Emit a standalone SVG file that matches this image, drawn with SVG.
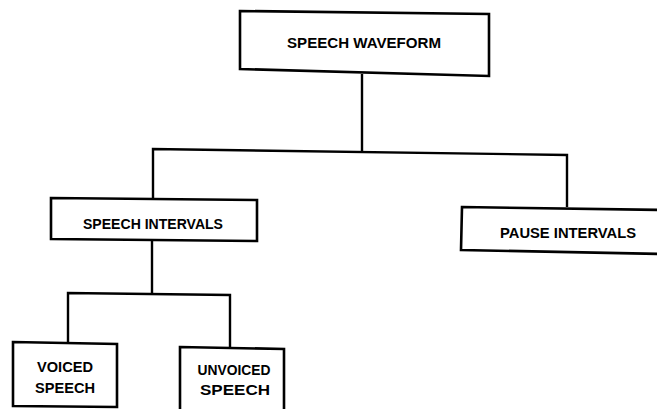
<svg xmlns="http://www.w3.org/2000/svg" width="657" height="409" viewBox="0 0 657 409">
<style>
.box{fill:#fff;stroke:#000;stroke-width:2.6;stroke-linejoin:miter}
.ln{fill:none;stroke:#000;stroke-width:2.4}
.t{font-family:"Liberation Sans",Arial,sans-serif;font-weight:bold;font-size:14px;fill:#000;text-anchor:middle}
</style>
<rect width="657" height="409" fill="#fff"/>
<g id="connectors">
<path class="ln" d="M362,74 L362,152"/>
<path class="ln" d="M153,199 L153,149 L567,155 L567,207"/>
<path class="ln" d="M152,240 L152,294"/>
<path class="ln" d="M68,342 L68,293 L230,295 L230,347"/>
</g>
<g id="speech-waveform">
<polygon class="box" points="240,11 489,14 489,76 240,69"/>
<text class="t" x="364" y="48" textLength="154" lengthAdjust="spacingAndGlyphs">SPEECH WAVEFORM</text>
</g>
<g id="speech-intervals">
<polygon class="box" points="51,198 257,200 257,241 51,239"/>
<text class="t" x="153" y="229" textLength="140" lengthAdjust="spacingAndGlyphs">SPEECH INTERVALS</text>
</g>
<g id="pause-intervals">
<polygon class="box" points="462,207 665,210 665,254 461,250"/>
<text class="t" x="568" y="238" textLength="136" lengthAdjust="spacingAndGlyphs">PAUSE INTERVALS</text>
</g>
<g id="voiced-speech">
<polygon class="box" points="13,342 117,344 117,407 13,406"/>
<text class="t" x="65" y="372" textLength="56" lengthAdjust="spacingAndGlyphs">VOICED</text>
<text class="t" x="65" y="393" textLength="60" lengthAdjust="spacingAndGlyphs">SPEECH</text>
</g>
<g id="unvoiced-speech">
<polygon class="box" points="180,347 284,349 284,414 180,414"/>
<text class="t" x="234" y="375" textLength="73" lengthAdjust="spacingAndGlyphs">UNVOICED</text>
<text class="t" x="235" y="395" textLength="70" lengthAdjust="spacingAndGlyphs">SPEECH</text>
</g>
</svg>
